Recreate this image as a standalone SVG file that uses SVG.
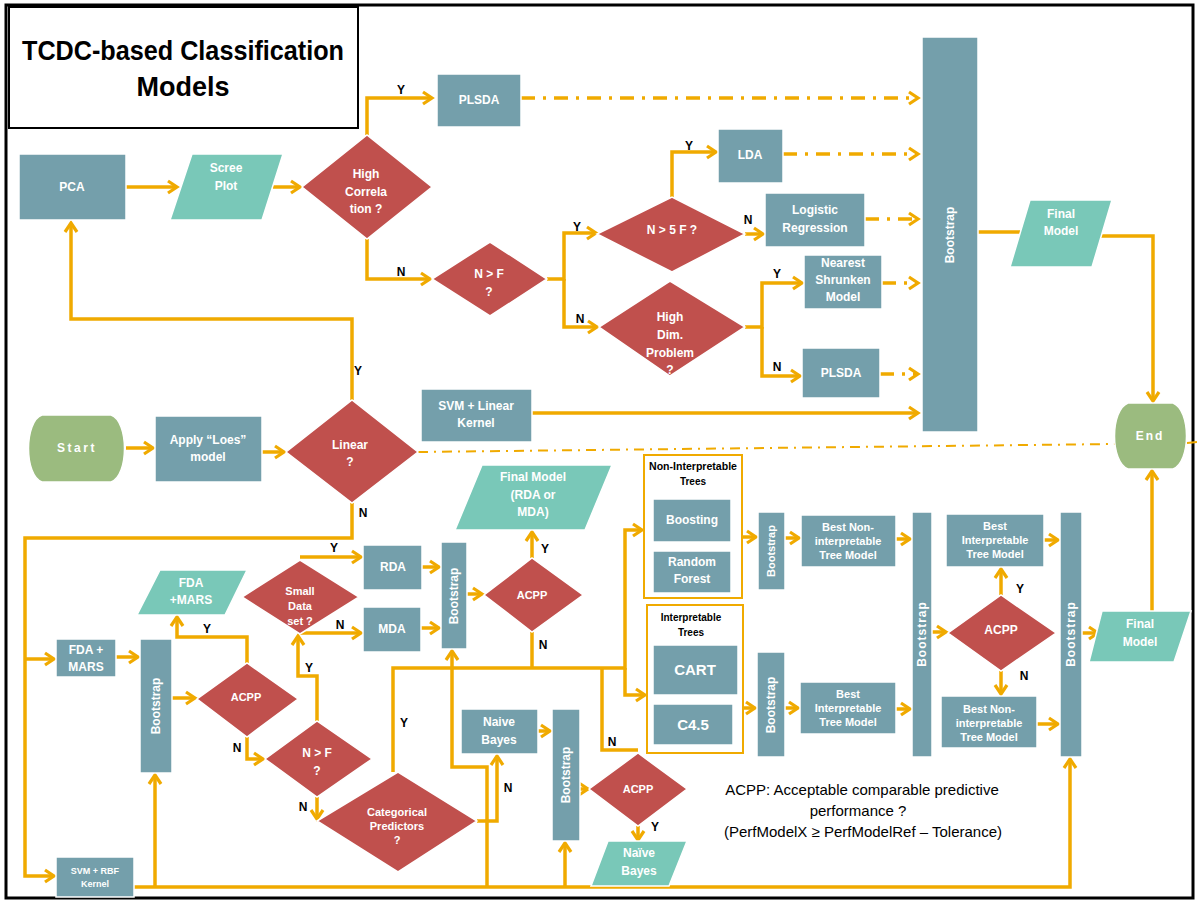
<svg xmlns="http://www.w3.org/2000/svg" width="1197" height="902" viewBox="0 0 1197 902">
  <style>
    .box { fill: #749FAB; stroke: #ffffff; stroke-width: 1.5; }
    .dia { fill: #C0504D; stroke: #ffffff; stroke-width: 1.5; }
    .io { fill: #79C8B8; stroke: #ffffff; stroke-width: 1.5; }
    .term { fill: #9BBB7F; stroke: #ffffff; stroke-width: 1.5; }
    .grp { fill: #ffffff; stroke: #F0AA00; stroke-width: 2; }
    text { font-family: "Liberation Sans", Arial, sans-serif; }
    .t { fill: #ffffff; font-weight: bold; font-size: 12px; text-anchor: middle; }
    .s { font-size: 11px; }
    .xs { font-size: 9px; }
    .big { font-size: 15px; }
    .yn { fill: #000000; font-weight: bold; font-size: 12px; text-anchor: middle; }
    .gt { fill: #000000; font-weight: bold; font-size: 10px; text-anchor: middle; }
    .leg { fill: #000000; font-size: 15px; text-anchor: middle; }
    .ln { fill: none; stroke: #F0AA00; stroke-width: 3.5; stroke-linejoin: miter; }
    .arr { marker-end: url(#ah); }
    .dd { stroke-dasharray: 14 8 3 8; }
    .sep { fill: none; stroke: #F0AA00; stroke-width: 2; stroke-dasharray: 10 6 2 6; }
  </style>
  <defs>
    <marker id="ah" markerWidth="14" markerHeight="16" refX="11" refY="8" orient="auto" markerUnits="userSpaceOnUse">
      <path d="M2,2 L11,8 L2,14" fill="none" stroke="#F0AA00" stroke-width="3.2" stroke-dasharray="none"/>
    </marker>
  </defs>

  <rect x="0" y="0" width="1197" height="902" fill="#ffffff"/>
  <!-- outer frame -->
  <rect x="6" y="5" width="1187" height="893" fill="none" stroke="#000000" stroke-width="3"/>

  <!-- title -->
  <g id="title">
    <rect x="9" y="7" width="349" height="121" fill="#ffffff" stroke="#000000" stroke-width="2"/>
    <text x="183" y="60" font-size="27" font-weight="bold" text-anchor="middle" textLength="322" lengthAdjust="spacingAndGlyphs">TCDC-based Classification</text>
    <text x="183" y="96" font-size="27" font-weight="bold" text-anchor="middle">Models</text>
  </g>

  <!-- connectors -->
  <g id="connectors">
    <path class="ln arr" d="M126,187 H177"/>
    <path class="ln arr" d="M273,187 H300"/>
    <path class="ln arr" d="M367,135 V98 H432"/>
    <path class="ln dd arr" d="M521,98 H918"/>
    <path class="ln arr" d="M367,239 V279 H430"/>
    <path class="ln arr" d="M547,279 H564 V233 H596"/>
    <path class="ln arr" d="M564,279 V327 H597"/>
    <path class="ln arr" d="M672,197 V152 H716"/>
    <path class="ln dd arr" d="M783,154 H918"/>
    <path class="ln arr" d="M745,234 H763"/>
    <path class="ln dd arr" d="M865,219 H918"/>
    <path class="ln arr" d="M745,327 H762 V283 H802"/>
    <path class="ln arr" d="M762,327 V376 H800"/>
    <path class="ln dd arr" d="M882,283 H918"/>
    <path class="ln dd arr" d="M880,374 H918"/>
    <path class="ln arr" d="M532,413 H918"/>
    <path class="ln" d="M978,232 H1020"/>
    <path class="ln arr" d="M1100,236 H1153 V401"/>

    <path class="ln arr" d="M126,448 H153"/>
    <path class="ln arr" d="M262,452 H284"/>
    <path class="ln arr" d="M352,400 V319 H71 V223"/>
    <path class="ln arr" d="M352,503 V538 H25 V876 H54"/>
    <path class="ln arr" d="M25,659 H54"/>

    <path class="ln arr" d="M116,657 H138"/>
    <path class="ln arr" d="M172,698 H195"/>
    <path class="ln arr" d="M247,663 V637 H177 V617"/>
    <path class="ln arr" d="M247,737 V759 H263"/>
    <path class="ln arr" d="M317,721 V676 H298 V636"/>
    <path class="ln arr" d="M317,797 V819"/>
    <path class="ln arr" d="M300,557 H361"/>
    <path class="ln arr" d="M300,633 H361"/>
    <path class="ln arr" d="M422,567 H439"/>
    <path class="ln arr" d="M421,628 H439"/>
    <path class="ln arr" d="M467,594 H482"/>
    <path class="ln arr" d="M532,558 V532"/>
    <path class="ln" d="M532,632 V668"/>

    <path class="ln arr" d="M393,772 V668 H625 V530 H642"/>
    <path class="ln arr" d="M625,668 V695 H645"/>
    <path class="ln" d="M602,668 V750 H638"/>
    <path class="ln arr" d="M477,821 H497 V756"/>
    <path class="ln arr" d="M538,731 H550"/>
    <path class="ln arr" d="M580,789 H588"/>
    <path class="ln arr" d="M638,826 V840"/>

    <path class="ln arr" d="M134,887 H1070 V759"/>
    <path class="ln arr" d="M155,887 V775"/>
    <path class="ln arr" d="M565,887 V843"/>
    <path class="ln arr" d="M487,887 V767 H452 V651"/>

    <path class="ln arr" d="M742,537 H756"/>
    <path class="ln arr" d="M785,538 H799"/>
    <path class="ln arr" d="M896,539 H910"/>
    <path class="ln arr" d="M743,708 H755"/>
    <path class="ln arr" d="M785,708 H798"/>
    <path class="ln arr" d="M896,709 H910"/>
    <path class="ln arr" d="M932,632 H946"/>
    <path class="ln arr" d="M1001,595 V569"/>
    <path class="ln arr" d="M1001,671 V694"/>
    <path class="ln arr" d="M1044,540 H1058"/>
    <path class="ln arr" d="M1037,724 H1058"/>
    <path class="ln arr" d="M1082,633 H1098"/>
    <path class="ln arr" d="M1152,611 V471"/>

    <!-- separator between linear and non-linear branches -->
    <path class="sep" d="M418,452 L1115,444"/>
    <path class="sep" d="M1187,443 L1197,442"/>

    <!-- branch labels -->
    <text class="yn" x="401" y="94">Y</text>
    <text class="yn" x="401" y="276">N</text>
    <text class="yn" x="689" y="150">Y</text>
    <text class="yn" x="577" y="231">Y</text>
    <text class="yn" x="748" y="224">N</text>
    <text class="yn" x="580" y="323">N</text>
    <text class="yn" x="777" y="278">Y</text>
    <text class="yn" x="777" y="371">N</text>
    <text class="yn" x="358" y="375">Y</text>
    <text class="yn" x="363" y="517">N</text>
    <text class="yn" x="334" y="552">Y</text>
    <text class="yn" x="340" y="629">N</text>
    <text class="yn" x="207" y="633">Y</text>
    <text class="yn" x="237" y="752">N</text>
    <text class="yn" x="309" y="672">Y</text>
    <text class="yn" x="303" y="811">N</text>
    <text class="yn" x="545" y="553">Y</text>
    <text class="yn" x="543" y="649">N</text>
    <text class="yn" x="404" y="727">Y</text>
    <text class="yn" x="508" y="792">N</text>
    <text class="yn" x="612" y="746">N</text>
    <text class="yn" x="655" y="831">Y</text>
    <text class="yn" x="1020" y="593">Y</text>
    <text class="yn" x="1024" y="680">N</text>
  </g>

  <!-- upper (linear) branch -->
  <g id="pca">
    <rect class="box" x="19" y="154" width="107" height="66"/>
    <text class="t" x="72" y="191">PCA</text>
  </g>
  <g id="scree-plot">
    <polygon class="io" points="192,154 283,154 262,220 170,220"/>
    <text class="t" x="226" y="172">Scree</text>
    <text class="t" x="226" y="190">Plot</text>
  </g>
  <g id="high-correlation">
    <polygon class="dia" points="302,187 367,135 432,187 367,239"/>
    <text class="t" x="366" y="178">High</text>
    <text class="t" x="366" y="196">Correla</text>
    <text class="t" x="366" y="213">tion ?</text>
  </g>
  <g id="plsda-top">
    <rect class="box" x="437" y="74" width="84" height="53"/>
    <text class="t" x="479" y="104">PLSDA</text>
  </g>
  <g id="n-gt-f-upper">
    <polygon class="dia" points="432,279 490,242 547,279 490,316"/>
    <text class="t" x="489" y="278">N &gt; F</text>
    <text class="t" x="489" y="296">?</text>
  </g>
  <g id="n-gt-5f">
    <polygon class="dia" points="597,234 672,197 745,234 672,272"/>
    <text class="t" x="672" y="234">N &gt; 5 F ?</text>
  </g>
  <g id="lda">
    <rect class="box" x="718" y="129" width="65" height="54"/>
    <text class="t" x="750" y="159">LDA</text>
  </g>
  <g id="logistic-regression">
    <rect class="box" x="765" y="193" width="100" height="54"/>
    <text class="t" x="815" y="214">Logistic</text>
    <text class="t" x="815" y="232">Regression</text>
  </g>
  <g id="high-dim">
    <polygon class="dia" points="599,327 670,281 745,327 670,376"/>
    <text class="t" x="670" y="321">High</text>
    <text class="t" x="670" y="339">Dim.</text>
    <text class="t" x="670" y="357">Problem</text>
    <text class="t" x="670" y="374">?</text>
  </g>
  <g id="nearest-shrunken">
    <rect class="box" x="804" y="255" width="78" height="54"/>
    <text class="t" x="843" y="267">Nearest</text>
    <text class="t" x="843" y="284">Shrunken</text>
    <text class="t" x="843" y="301">Model</text>
  </g>
  <g id="plsda-low">
    <rect class="box" x="802" y="348" width="78" height="50"/>
    <text class="t" x="841" y="377">PLSDA</text>
  </g>
  <g id="svm-linear">
    <rect class="box" x="421" y="389" width="111" height="53"/>
    <text class="t" x="476" y="410">SVM + Linear</text>
    <text class="t" x="476" y="427">Kernel</text>
  </g>
  <g id="bootstrap-linear">
    <rect class="box" x="922" y="37" width="56" height="395"/>
    <text class="t" x="950" y="239" transform="rotate(-90 950 235)">Bootstrap</text>
  </g>
  <g id="final-model-top">
    <polygon class="io" points="1030,200 1112,200 1092,267 1010,267"/>
    <text class="t" x="1061" y="218">Final</text>
    <text class="t" x="1061" y="235">Model</text>
  </g>
  <g id="end">
    <path class="term" d="M1128,403 H1173 C1191,410 1191,462 1173,469 H1128 C1110,462 1110,410 1128,403 Z"/>
    <text class="t" x="1150" y="440" letter-spacing="2">End</text>
  </g>

  <!-- entry -->
  <g id="start">
    <path class="term" d="M42,415 H111 C129,421 129,476 111,482 H42 C24,476 24,421 42,415 Z"/>
    <text class="t" x="77" y="452" letter-spacing="2.5">Start</text>
  </g>
  <g id="apply-loes">
    <rect class="box" x="155" y="416" width="107" height="66"/>
    <text class="t" x="208" y="444">Apply “Loes”</text>
    <text class="t" x="208" y="461">model</text>
  </g>
  <g id="linear">
    <polygon class="dia" points="286,452 352,400 418,452 352,503"/>
    <text class="t" x="350" y="449">Linear</text>
    <text class="t" x="350" y="466">?</text>
  </g>

  <!-- lower (non-linear) branch -->
  <g id="final-model-rda-mda">
    <polygon class="io" points="482,465 612,465 585,530 455,530"/>
    <text class="t" x="533" y="481">Final Model</text>
    <text class="t" x="533" y="499">(RDA or</text>
    <text class="t" x="533" y="516">MDA)</text>
  </g>
  <g id="fda-mars-out">
    <polygon class="io" points="160,570 247,570 225,615 137,615"/>
    <text class="t" x="191" y="587">FDA</text>
    <text class="t" x="191" y="604">+MARS</text>
  </g>
  <g id="small-data">
    <polygon class="dia" points="242,597 300,560 359,597 300,634"/>
    <text class="t s" x="300" y="595">Small</text>
    <text class="t s" x="300" y="610">Data</text>
    <text class="t s" x="300" y="625">set ?</text>
  </g>
  <g id="rda">
    <rect class="box" x="363" y="545" width="59" height="45"/>
    <text class="t" x="393" y="571">RDA</text>
  </g>
  <g id="mda">
    <rect class="box" x="363" y="607" width="58" height="45"/>
    <text class="t" x="392" y="633">MDA</text>
  </g>
  <g id="bootstrap-da">
    <rect class="box" x="441" y="542" width="26" height="107"/>
    <text class="t" x="454" y="600" transform="rotate(-90 454 596)">Bootstrap</text>
  </g>
  <g id="acpp-da">
    <polygon class="dia" points="484,595 532,558 583,595 532,632"/>
    <text class="t s" x="532" y="599">ACPP</text>
  </g>
  <g id="fda-mars">
    <rect class="box" x="56" y="639" width="60" height="38"/>
    <text class="t" x="86" y="654">FDA +</text>
    <text class="t" x="86" y="671">MARS</text>
  </g>
  <g id="bootstrap-fda">
    <rect class="box" x="140" y="639" width="32" height="134"/>
    <text class="t" x="156" y="710" transform="rotate(-90 156 706)">Bootstrap</text>
  </g>
  <g id="acpp-fda">
    <polygon class="dia" points="197,699 247,663 298,699 247,737"/>
    <text class="t s" x="246" y="701">ACPP</text>
  </g>
  <g id="n-gt-f-lower">
    <polygon class="dia" points="265,759 317,721 372,759 317,797"/>
    <text class="t" x="317" y="757">N &gt; F</text>
    <text class="t" x="317" y="775">?</text>
  </g>
  <g id="categorical">
    <polygon class="dia" points="317,821 398,772 477,821 398,872"/>
    <text class="t s" x="397" y="816">Categorical</text>
    <text class="t s" x="397" y="830">Predictors</text>
    <text class="t s" x="397" y="844">?</text>
  </g>
  <g id="svm-rbf">
    <rect class="box" x="56" y="857" width="78" height="40"/>
    <text class="t xs" x="95" y="874">SVM + RBF</text>
    <text class="t xs" x="95" y="887">Kernel</text>
  </g>
  <g id="naive-bayes">
    <rect class="box" x="461" y="709" width="77" height="45"/>
    <text class="t" x="499" y="726">Naive</text>
    <text class="t" x="499" y="744">Bayes</text>
  </g>
  <g id="bootstrap-nb">
    <rect class="box" x="552" y="709" width="28" height="132"/>
    <text class="t" x="566" y="779" transform="rotate(-90 566 775)">Bootstrap</text>
  </g>
  <g id="acpp-nb">
    <polygon class="dia" points="589,789 638,753 687,789 638,826"/>
    <text class="t s" x="638" y="793">ACPP</text>
  </g>
  <g id="naive-bayes-out">
    <polygon class="io" points="608,841 687,841 669,886 591,886"/>
    <text class="t" x="639" y="857">Naïve</text>
    <text class="t" x="639" y="875">Bayes</text>
  </g>

  <!-- tree models -->
  <g id="non-interpretable-trees">
    <rect class="grp" x="644" y="455" width="98" height="143"/>
    <text class="gt" x="693" y="470" textLength="88" lengthAdjust="spacingAndGlyphs">Non-Interpretable</text>
    <text class="gt" x="693" y="485">Trees</text>
  </g>
  <g id="boosting">
    <rect class="box" x="653" y="499" width="78" height="43"/>
    <text class="t" x="692" y="524">Boosting</text>
  </g>
  <g id="random-forest">
    <rect class="box" x="653" y="551" width="78" height="42"/>
    <text class="t" x="692" y="566">Random</text>
    <text class="t" x="692" y="583">Forest</text>
  </g>
  <g id="interpretable-trees">
    <rect class="grp" x="647" y="605" width="96" height="148"/>
    <text class="gt" x="691" y="621">Interpretable</text>
    <text class="gt" x="691" y="636">Trees</text>
  </g>
  <g id="cart">
    <rect class="box" x="653" y="645" width="85" height="50"/>
    <text class="t big" x="695" y="675">CART</text>
  </g>
  <g id="c45">
    <rect class="box" x="653" y="704" width="80" height="41"/>
    <text class="t big" x="693" y="730">C4.5</text>
  </g>
  <g id="bootstrap-nit">
    <rect class="box" x="758" y="512" width="27" height="78"/>
    <text class="t s" x="771" y="555" transform="rotate(-90 771 551)">Bootstrap</text>
  </g>
  <g id="bootstrap-it">
    <rect class="box" x="757" y="652" width="28" height="105"/>
    <text class="t" x="771" y="709" transform="rotate(-90 771 705)">Bootstrap</text>
  </g>
  <g id="best-nit-mid">
    <rect class="box" x="801" y="515" width="95" height="52"/>
    <text class="t s" x="848" y="531">Best Non-</text>
    <text class="t s" x="848" y="545">interpretable</text>
    <text class="t s" x="848" y="559">Tree Model</text>
  </g>
  <g id="best-it-mid">
    <rect class="box" x="800" y="682" width="96" height="52"/>
    <text class="t s" x="848" y="698">Best</text>
    <text class="t s" x="848" y="712">Interpretable</text>
    <text class="t s" x="848" y="726">Tree Model</text>
  </g>
  <g id="bootstrap-trees">
    <rect class="box" x="912" y="512" width="20" height="245"/>
    <text class="t" x="922" y="638" transform="rotate(-90 922 634)" letter-spacing="1">Bootstrap</text>
  </g>
  <g id="acpp-trees">
    <polygon class="dia" points="948,633 1001,595 1056,633 1001,671"/>
    <text class="t" x="1001" y="634">ACPP</text>
  </g>
  <g id="best-it-right">
    <rect class="box" x="946" y="514" width="98" height="53"/>
    <text class="t s" x="995" y="530">Best</text>
    <text class="t s" x="995" y="544">Interpretable</text>
    <text class="t s" x="995" y="558">Tree Model</text>
  </g>
  <g id="best-nit-right">
    <rect class="box" x="941" y="696" width="96" height="52"/>
    <text class="t s" x="989" y="713">Best Non-</text>
    <text class="t s" x="989" y="727">interpretable</text>
    <text class="t s" x="989" y="741">Tree Model</text>
  </g>
  <g id="bootstrap-final">
    <rect class="box" x="1060" y="512" width="22" height="245"/>
    <text class="t" x="1071" y="638" transform="rotate(-90 1071 634)" letter-spacing="1">Bootstrap</text>
  </g>
  <g id="final-model-low">
    <polygon class="io" points="1102,611 1191,611 1174,662 1089,662"/>
    <text class="t" x="1140" y="628">Final</text>
    <text class="t" x="1140" y="646">Model</text>
  </g>

  <!-- legend -->
  <g id="acpp-legend">
    <text class="leg" x="862" y="795">ACPP: Acceptable comparable predictive</text>
    <text class="leg" x="858" y="816">performance ?</text>
    <text class="leg" x="863" y="837">(PerfModelX ≥ PerfModelRef – Tolerance)</text>
  </g>
</svg>
